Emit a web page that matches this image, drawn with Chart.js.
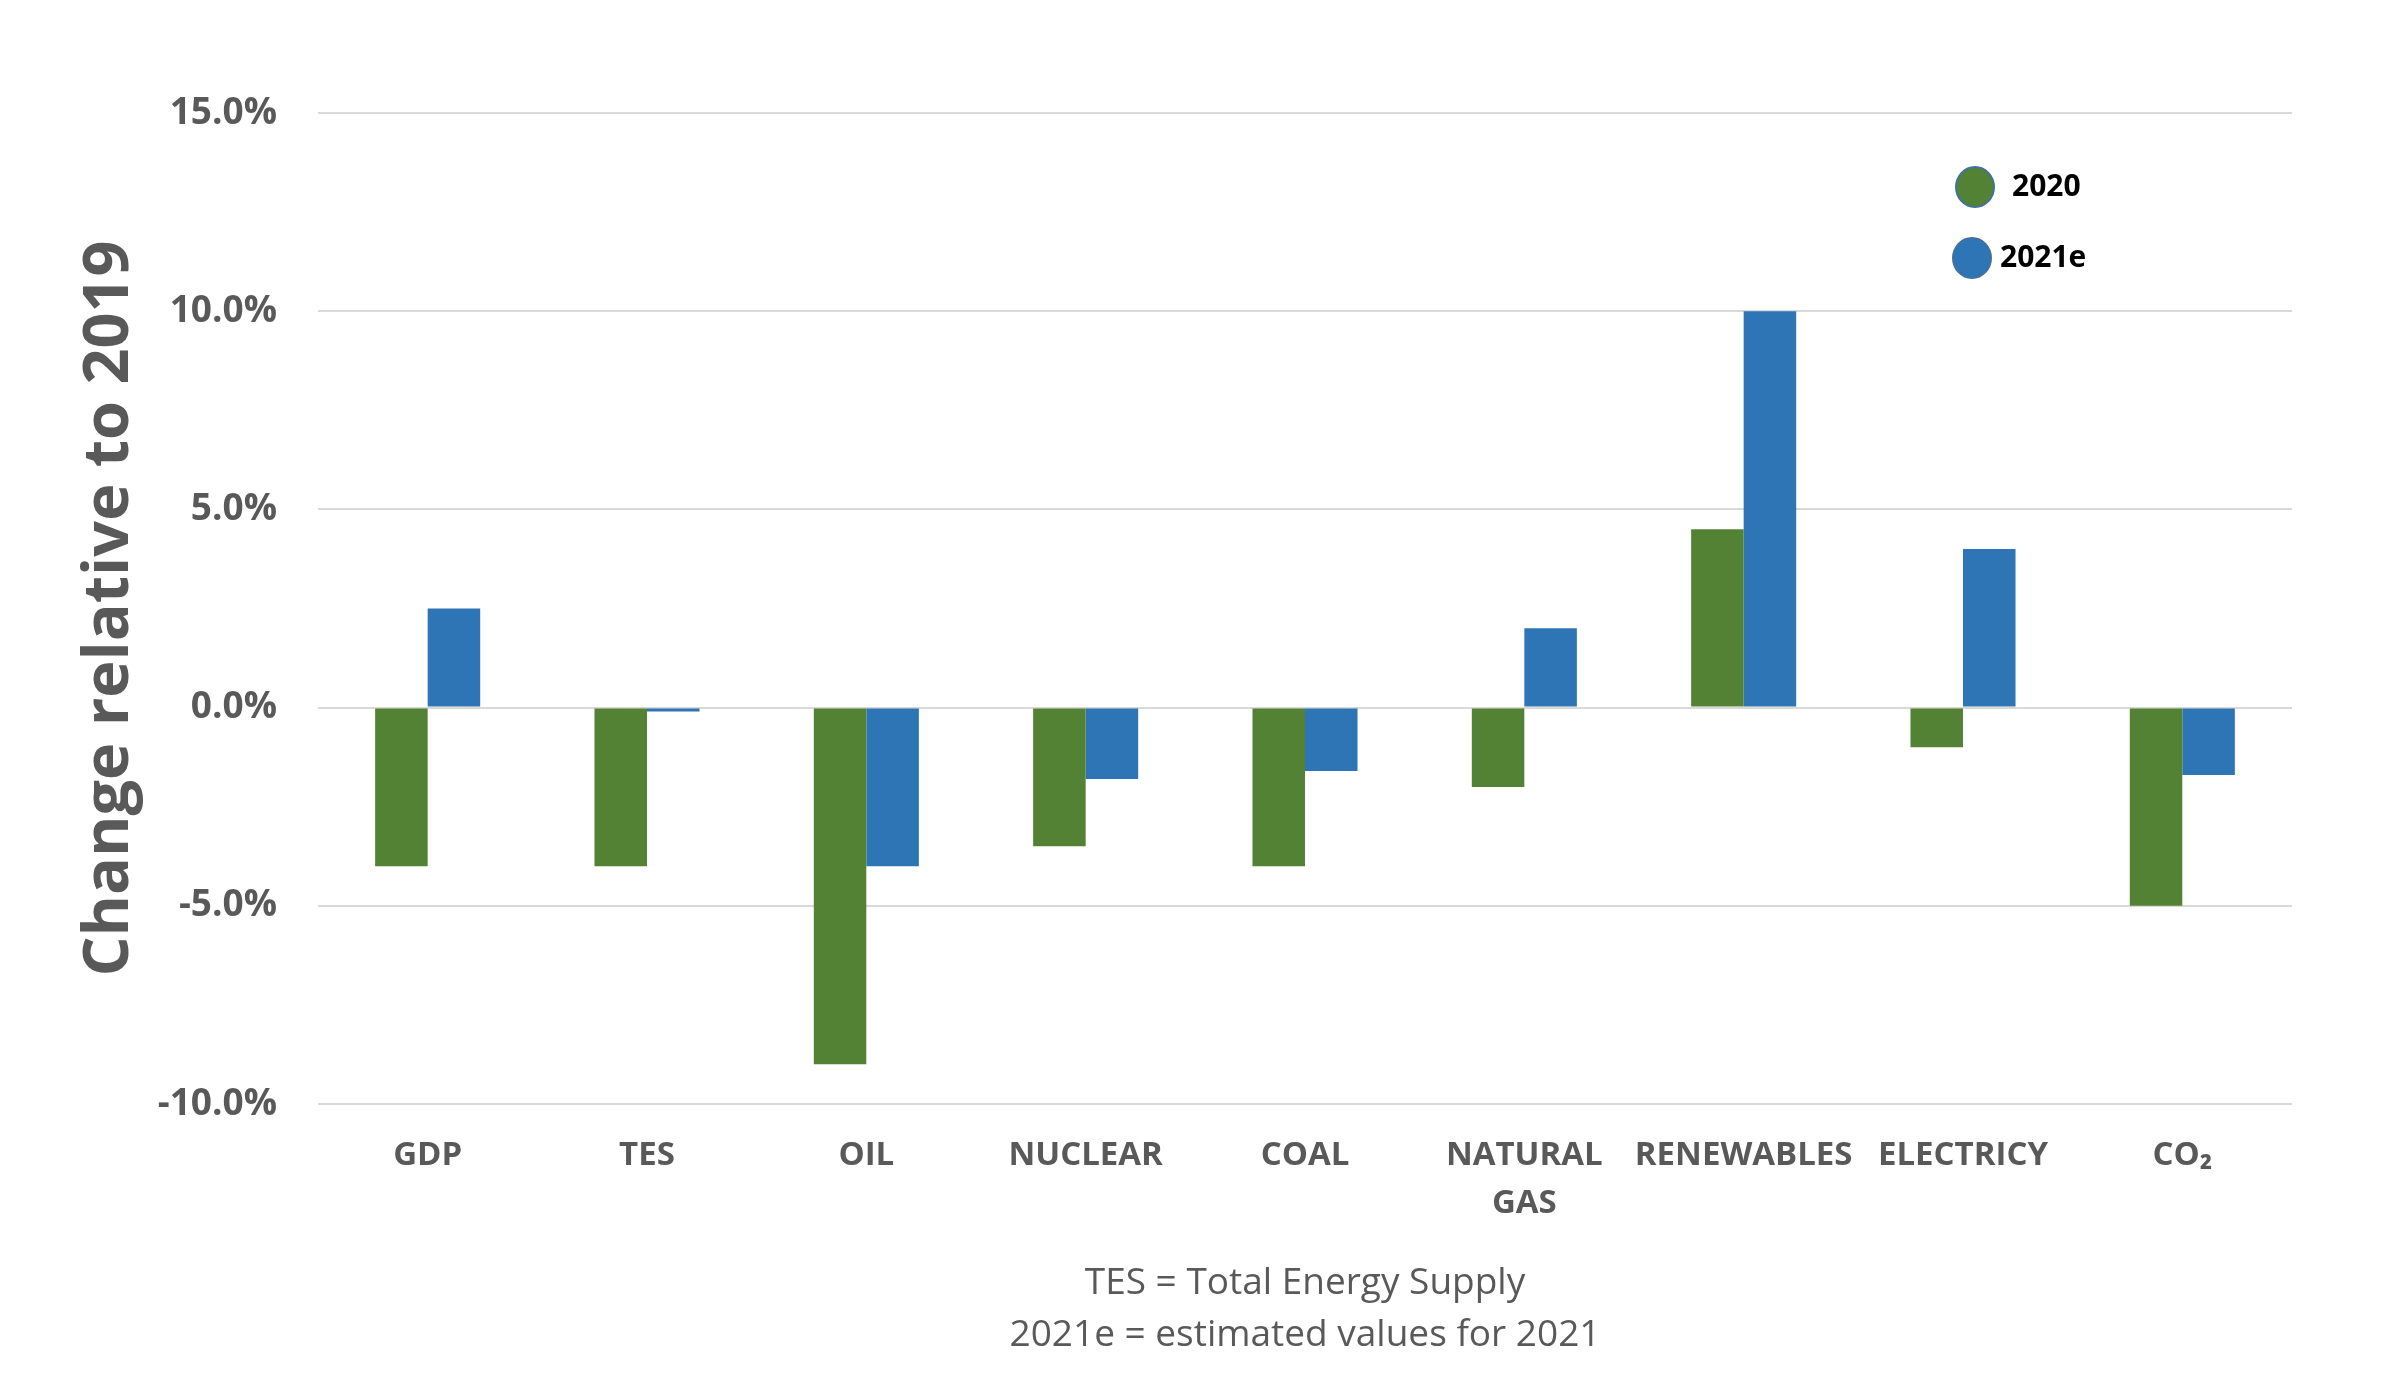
<!DOCTYPE html>
<html>
<head>
<meta charset="utf-8">
<script src="https://cdn.jsdelivr.net/npm/chart.js@4.4.1/dist/chart.umd.min.js"></script>
<style>
  body { margin: 0; background: #fff; }
  canvas { display: block; }
</style>
</head>
<body>
<canvas id="chart" width="2388" height="1400"></canvas>
<script>
const categories = ['GDP', 'TES', 'OIL', 'NUCLEAR', 'COAL', ['NATURAL', 'GAS'], 'RENEWABLES', 'ELECTRICY', 'CO₂'];
const values2020 = [-4.0, -4.0, -9.0, -3.5, -4.0, -2.0, 4.5, -1.0, -5.0];
const values2021e = [2.5, -0.1, -4.0, -1.8, -1.6, 2.0, 10.0, 4.0, -1.7];
const yTicks = [-10, -5, 0, 5, 10, 15];
const footnotes = ['TES = Total Energy Supply', '2021e = estimated values for 2021'];

const grey = '#595959';

// legend drawn as dots inside the plot, top right
const dotLegend = {
    id: 'dotLegend',
    afterDraw(chart) {
        const ctx = chart.ctx;
        const spots = [
            { x: 1975, y: 187, tx: 2012 },
            { x: 1972, y: 258, tx: 2000 }
        ];
        ctx.save();
        chart.data.datasets.forEach((ds, i) => {
            const s = spots[i];
            ctx.beginPath();
            ctx.ellipse(s.x, s.y, 19, 20, 0, 0, Math.PI * 2);
            ctx.fillStyle = ds.backgroundColor;
            ctx.fill();
            ctx.lineWidth = 2;
            ctx.strokeStyle = '#41719C';
            ctx.stroke();
            ctx.fillStyle = '#000';
            ctx.font = 'bold 30px "Open Sans"';
            ctx.textBaseline = 'middle';
            ctx.textAlign = 'left';
            ctx.fillText(ds.label, s.tx, s.y);
        });
        ctx.restore();
    }
};

new Chart(document.getElementById('chart'), {
    type: 'bar',
    data: {
        labels: categories,
        datasets: [{
            label: '2020',
            data: values2020,
            backgroundColor: '#548235'
        },
        {
            label: '2021e',
            data: values2021e,
            backgroundColor: '#2E75B6'
        }]
    },
    options: {
        responsive: false,
        devicePixelRatio: 1,
        animation: false,
        categoryPercentage: 0.479,
        barPercentage: 1.0,
        layout: {
            padding: { top: 113, right: 96, bottom: 0, left: 0 }
        },
        scales: {
            x: {
                grid: { display: false },
                border: { display: false },
                ticks: {
                    color: grey,
                    padding: 20,
                    maxRotation: 0,
                    autoSkip: false,
                    font: { family: 'Open Sans', weight: 'bold', size: 33, lineHeight: 1.45 }
                },
                title: {
                    display: true,
                    text: footnotes,
                    color: grey,
                    font: { family: 'Open Sans', size: 37, lineHeight: 1.4 },
                    padding: { top: 0, bottom: 39 }
                },
                afterFit(scale) {
                    scale.height = 296;
                }
            },
            y: {
                min: -10,
                max: 15,
                afterBuildTicks(scale) {
                    scale.ticks = yTicks.map(v => ({ value: v }));
                },
                grid: { color: '#d9d9d9', lineWidth: 2, drawTicks: false },
                border: { display: false },
                ticks: {
                    color: grey,
                    padding: 41,
                    font: { family: 'Open Sans', weight: 'bold', size: 37 },
                    callback: v => v.toFixed(1) + '%'
                },
                title: {
                    display: true,
                    text: 'Change relative to 2019',
                    color: grey,
                    font: { family: 'Open Sans', weight: 'bold', size: 63, lineHeight: 1.2 },
                    padding: { top: 72, bottom: 0 }
                },
                afterFit(scale) {
                    scale.width = 318;
                }
            }
        },
        plugins: {
            legend: { display: false },
            tooltip: { enabled: false }
        }
    },
    plugins: [dotLegend]
});
</script>
</body>
</html>
